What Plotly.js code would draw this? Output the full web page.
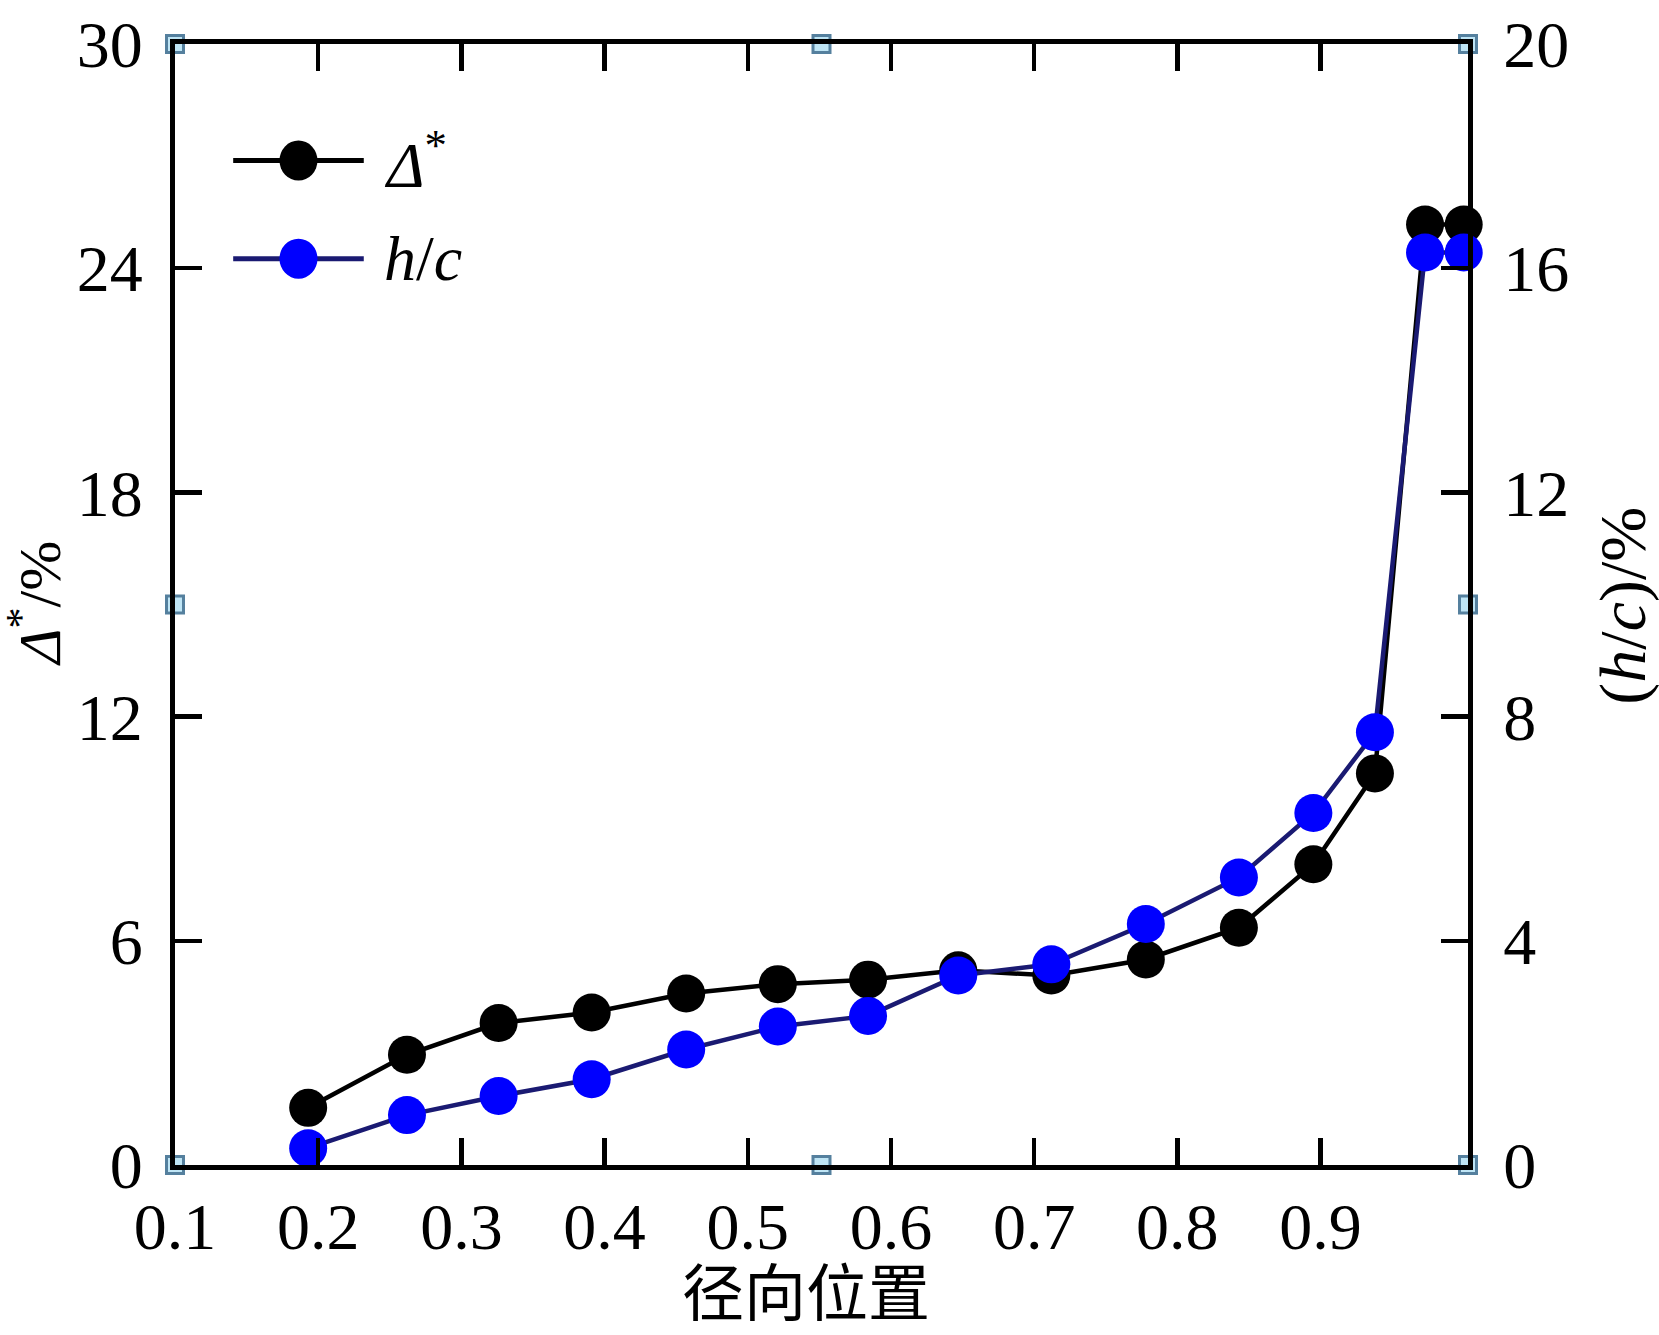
<!DOCTYPE html>
<html>
<head>
<meta charset="utf-8">
<script src="https://cdn.plot.ly/plotly-3.0.1.min.js"></script>
<style>
  html, body { margin: 0; padding: 0; background: #fff; }
  #chart { width: 1659px; height: 1335px; }
</style>
</head>
<body>
<div id="chart"></div>
<script>
// radial position of each measuring station
var radialPos = [0.193, 0.262, 0.326, 0.391, 0.457, 0.521, 0.584, 0.647, 0.712, 0.778, 0.843, 0.895, 0.938, 0.973, 1.0];
// Δ* in %, left axis
var deltaStar = [1.53, 2.95, 3.80, 4.08, 4.59, 4.84, 4.96, 5.21, 5.07, 5.50, 6.35, 8.05, 10.48, 25.17, 25.17];
// h/c in %, right axis
var hOverC = [0.30, 0.89, 1.23, 1.53, 2.06, 2.47, 2.66, 3.38, 3.58, 4.30, 5.13, 6.28, 7.72, 16.28, 16.28];

var xTickVals = [0.1, 0.2, 0.3, 0.4, 0.5, 0.6, 0.7, 0.8, 0.9];
var xTickText = ['0.1', '0.2', '0.3', '0.4', '0.5', '0.6', '0.7', '0.8', '0.9'];
var yLeftTicks = [0, 6, 12, 18, 24, 30];
var yRightTicks = [0, 4, 8, 12, 16, 20];

// selection handles left on the frame (corners and mid points)
var handleX = [0.1, 0.1, 0.1, 0.5515, 0.5515, 1.003, 1.003, 1.003];
var handleY = [0, 15, 30, 30, 0, 0, 15, 30];

var SERIF = '"Liberation Serif", "DejaVu Serif", serif';
var CJK = '"Noto Sans CJK SC", sans-serif';
var INK = '#000000';
var NAVY = '#1a1a72';

var traces = [
    {
        x: radialPos,
        y: deltaStar,
        name: 'Δ*',
        type: 'scatter',
        mode: 'lines+markers',
        line: { color: INK, width: 4.5 },
        marker: { color: INK, size: 38, symbol: 'circle' },
        cliponaxis: false,
        showlegend: false
    },
    {
        x: radialPos,
        y: hOverC,
        name: 'h/c',
        yaxis: 'y2',
        type: 'scatter',
        mode: 'lines+markers',
        line: { color: NAVY, width: 4.5 },
        marker: { color: '#0000ff', size: 38, symbol: 'circle' },
        cliponaxis: false,
        showlegend: false
    },
    {
        x: handleX,
        y: handleY,
        type: 'scatter',
        mode: 'markers',
        marker: {
            symbol: 'square',
            size: 17,
            color: '#bfe5f5',
            line: { color: '#55809e', width: 3 }
        },
        cliponaxis: false,
        hoverinfo: 'skip',
        showlegend: false
    }
];

// hand made legend, long sample line with the marker in the middle
var legendRows = [
    { y: 0.896, line: INK, fill: INK, label: '<i>Δ</i><sup>*</sup>' },
    { y: 0.8085, line: NAVY, fill: '#0000ff', label: '<i>h</i>/<i>c</i>' }
];
var shapes = [];
var annotations = [];
legendRows.forEach(function (row) {
    shapes.push({
        type: 'line', xref: 'paper', yref: 'paper',
        x0: 0.045, x1: 0.146, y0: row.y, y1: row.y,
        line: { color: row.line, width: 5 }
    });
    shapes.push({
        type: 'circle', xref: 'paper', yref: 'paper',
        xsizemode: 'pixel', ysizemode: 'pixel',
        xanchor: 0.0955, yanchor: row.y,
        x0: -19, x1: 19, y0: -20, y1: 20,
        fillcolor: row.fill, line: { width: 0 }
    });
    annotations.push({
        xref: 'paper', yref: 'paper',
        x: 0.16, y: row.y,
        xanchor: 'left', yanchor: 'middle',
        text: row.label, showarrow: false,
        font: { family: SERIF, size: 64, color: INK }
    });
});

// axis titles placed as annotations so they can sit close to the page edge
annotations.push({
    xref: 'paper', yref: 'paper', x: 0.488, y: -0.111,
    xanchor: 'center', yanchor: 'middle', showarrow: false, borderpad: 0,
    text: '径向位置',
    font: { family: CJK, size: 62, color: INK }
});
annotations.push({
    xref: 'paper', yref: 'paper', x: -0.108, y: 0.501,
    xanchor: 'center', yanchor: 'middle', showarrow: false, textangle: -90, borderpad: 0,
    text: '<i>Δ</i><sup>*</sup>/%',
    font: { family: SERIF, size: 60, color: INK }
});
annotations.push({
    xref: 'paper', yref: 'paper', x: 1.1199, y: 0.499,
    xanchor: 'center', yanchor: 'middle', showarrow: false, textangle: -90, borderpad: 0,
    text: '(<i>h</i>/<i>c</i>)/%',
    font: { family: SERIF, size: 66, color: INK }
});

var layout = {
    width: 1659,
    height: 1335,
    paper_bgcolor: 'white',
    plot_bgcolor: 'white',
    showlegend: false,
    margin: { l: 175, r: 191, t: 44, b: 170, pad: 0 },
    font: { family: SERIF, color: INK },
    xaxis: {
        range: [0.1, 1.003],
        tickmode: 'array',
        tickvals: xTickVals,
        ticktext: xTickText,
        ticks: 'inside',
        ticklen: 27,
        tickwidth: 4.5,
        tickcolor: INK,
        ticklabelstandoff: 0,
        showline: true,
        linewidth: 5,
        linecolor: INK,
        mirror: 'ticks',
        showgrid: false,
        zeroline: false,
        tickfont: { family: SERIF, size: 66, color: INK }
    },
    yaxis: {
        range: [0, 30],
        tickmode: 'array',
        tickvals: yLeftTicks,
        ticks: 'inside',
        ticklen: 27,
        tickwidth: 4.5,
        tickcolor: INK,
        ticklabelstandoff: 14,
        showline: true,
        linewidth: 5,
        linecolor: INK,
        showgrid: false,
        zeroline: false,
        tickfont: { family: SERIF, size: 66, color: INK }
    },
    yaxis2: {
        overlaying: 'y',
        side: 'right',
        range: [0, 20],
        tickmode: 'array',
        tickvals: yRightTicks,
        ticks: 'inside',
        ticklen: 27,
        tickwidth: 4.5,
        tickcolor: INK,
        ticklabelstandoff: 17,
        showline: true,
        linewidth: 5,
        linecolor: INK,
        showgrid: false,
        zeroline: false,
        tickfont: { family: SERIF, size: 66, color: INK }
    },
    shapes: shapes,
    annotations: annotations
};

Plotly.newPlot('chart', traces, layout, { displayModeBar: false, staticPlot: true });
</script>
</body>
</html>
